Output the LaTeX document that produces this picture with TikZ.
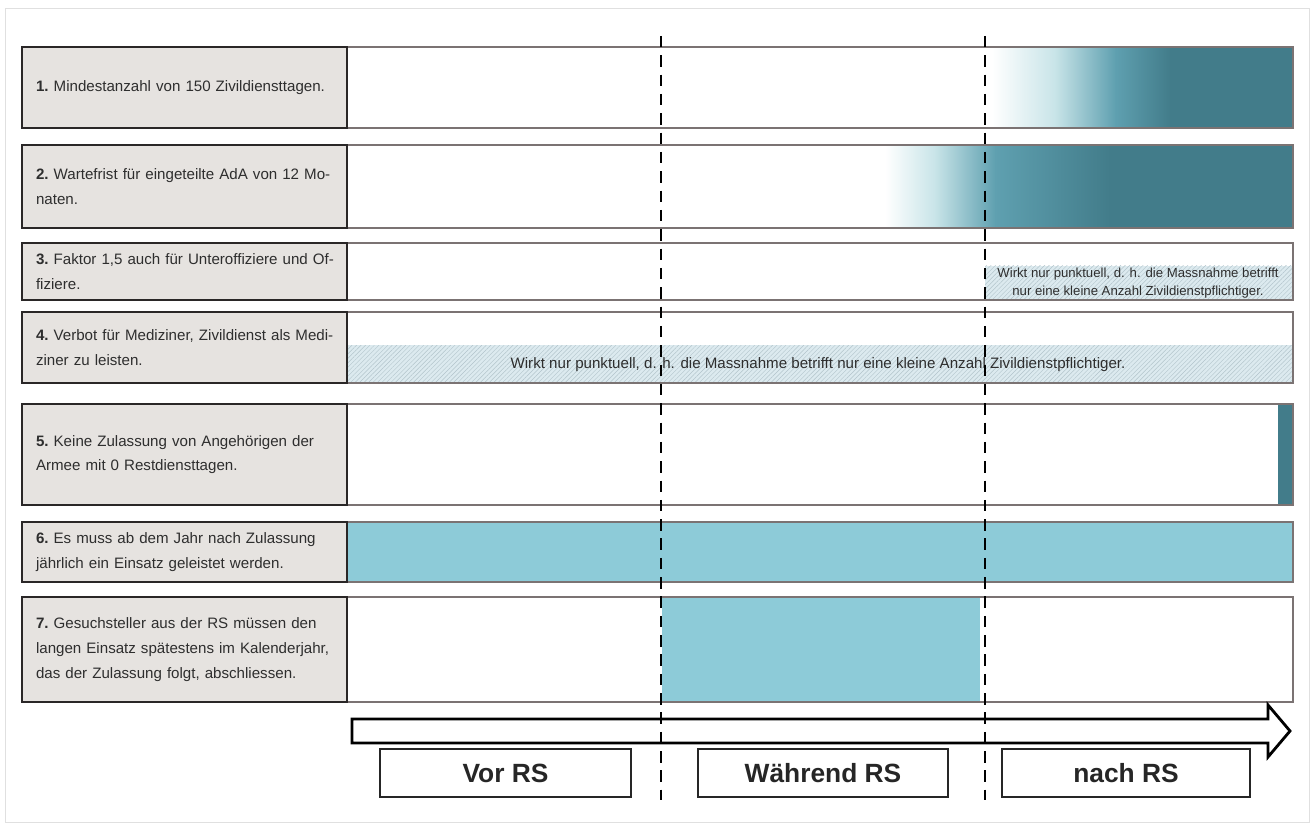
\documentclass[tikz,border=0pt]{standalone}
\usepackage{fontspec}
\setmainfont{Liberation Sans}
\usetikzlibrary{patterns.meta}

\definecolor{boxfill}{HTML}{E6E3E0}
\definecolor{boxborder}{HTML}{2A2727}
\definecolor{bargray}{HTML}{7B7373}
\definecolor{txtgray}{HTML}{2E2E2E}
\definecolor{tealD}{HTML}{427C8A}
\definecolor{tealM}{HTML}{5FA0B0}
\definecolor{tealL}{HTML}{C8E4E8}
\definecolor{lightblue}{HTML}{8DCBD8}
\definecolor{hatchblue}{HTML}{DCEAEF}
\definecolor{hatchline}{HTML}{B2C4CB}
\newcommand{\labfont}{\fontsize{8.6}{14}\selectfont\frenchspacing\hyphenpenalty=10000\relax}

\begin{document}
\begin{tikzpicture}[x=0.02cm, y=-0.02cm,
  every node/.style={font=\fontsize{8.6}{14}\selectfont, text=txtgray},
  labelbox/.style={draw=boxborder, line width=1.5pt, fill=boxfill, minimum width=6.5cm, text width=5.94cm, inner xsep=0.28cm, align=left, font=\labfont},
  barbox/.style={draw=bargray, line width=1.2pt, minimum width=18.92cm},
  phasebox/.style={draw=black!85, line width=1.2pt, fill=white, minimum height=0.96cm, font=\fontsize{15}{18}\selectfont\bfseries, text=black!85},
  hatch/.style={fill=hatchblue, postaction={pattern={Lines[angle=45, distance=1.8pt, line width=0.25pt]}, pattern color=hatchline}},
  rsline/.style={line width=1.6pt, dash pattern=on 6.5pt off 4.5pt}]
\useasboundingbox (0,0) rectangle (1314,827);
\draw[black!12, line width=0.4pt] (5,8) rectangle (1309,822);

% fillings of the bars
\shade[left color=white, right color=tealL] (992,47) rectangle (1055.5,128);
\shade[left color=tealL, right color=tealM] (1055,47) rectangle (1115.5,128);
\shade[left color=tealM, right color=tealD] (1115,47) rectangle (1170.5,128);
\fill[tealD] (1170,47) rectangle (1293,128);
\shade[left color=white, right color=tealL] (885,145) rectangle (935.5,228);
\shade[left color=tealL, right color=tealM] (935,145) rectangle (995.5,228);
\shade[left color=tealM, right color=tealD] (995,145) rectangle (1110.5,228);
\fill[tealD] (1110,145) rectangle (1293,228);
\path[hatch] (985,266) rectangle (1293,300);
\path[hatch] (347,345) rectangle (1293,383);
\fill[tealD] (1278,404) rectangle (1293,505);
\fill[lightblue] (347,522) rectangle (1293,582);
\fill[lightblue] (662,597) rectangle (980,702);

% bars
\node[barbox, minimum height=1.62cm] (bar1) at (820,87.5) {};
\node[barbox, minimum height=1.66cm] (bar2) at (820,186.5) {};
\node[barbox, minimum height=1.14cm] (bar3) at (820,271.5) {};
\node[barbox, minimum height=1.42cm] (bar4) at (820,347.5) {};
\node[barbox, minimum height=2.02cm] (bar5) at (820,454.5) {};
\node[barbox, minimum height=1.2cm] (bar6) at (820,552) {};
\node[barbox, minimum height=2.1cm] (bar7) at (820,649.5) {};

% labels
\node[labelbox, minimum height=1.62cm] (lab1) at (184.5,87.5) {\textbf{1.} Mindestanzahl von 150 Zivildiensttagen.};
\node[labelbox, minimum height=1.66cm] (lab2) at (184.5,186.5) {\mbox{\textbf{2.} Wartefrist für eingeteilte AdA von 12 Mo-}\\naten.};
\node[labelbox, minimum height=1.14cm] (lab3) at (184.5,271.5) {\mbox{\textbf{3.} Faktor 1,5 auch für Unteroffiziere und Of-}\\fiziere.};
\node[labelbox, minimum height=1.42cm] (lab4) at (184.5,347.5) {\mbox{\textbf{4.} Verbot für Mediziner, Zivildienst als Medi-}\\ziner zu leisten.};
\node[labelbox, minimum height=2.02cm] (lab5) at (184.5,454.5) {\textbf{5.} Keine Zulassung von Angehörigen der\\Armee mit 0 Restdiensttagen.};
\node[labelbox, minimum height=1.2cm] (lab6) at (184.5,552) {\textbf{6.} Es muss ab dem Jahr nach Zulassung\\jährlich ein Einsatz geleistet werden.};
\node[labelbox, minimum height=2.1cm] (lab7) at (184.5,649.5) {\textbf{7.} Gesuchsteller aus der RS müssen den\\langen Einsatz spätestens im Kalenderjahr,\\das der Zulassung folgt, abschliessen.};

% hints
\node[font=\fontsize{7.5}{10}\selectfont, align=center] (hint3) at (1138,283) {Wirkt nur punktuell, d. h. die Massnahme betrifft\\nur eine kleine Anzahl Zivildienstpflichtiger.};
\node (hint4) at (818,365) {Wirkt nur punktuell, d. h. die Massnahme betrifft nur eine kleine Anzahl Zivildienstpflichtiger.};

% time arrow
\draw[line width=1.6pt, fill=white, line join=miter] (352,719) -- (1268,719) -- (1268,705) -- (1290,731) -- (1268,757) -- (1268,743) -- (352,743) -- cycle;

\node[phasebox, minimum width=5.02cm] (vor) at (505.5,773) {Vor RS};
\node[phasebox, minimum width=5cm] (waehrend) at (823,773) {Während RS};
\node[phasebox, minimum width=4.96cm] (nach) at (1126,773) {nach RS};

% RS borders
\draw[rsline] (661,36) -- (661,800);
\draw[rsline] (985,36) -- (985,800);
\end{tikzpicture}
\end{document}
